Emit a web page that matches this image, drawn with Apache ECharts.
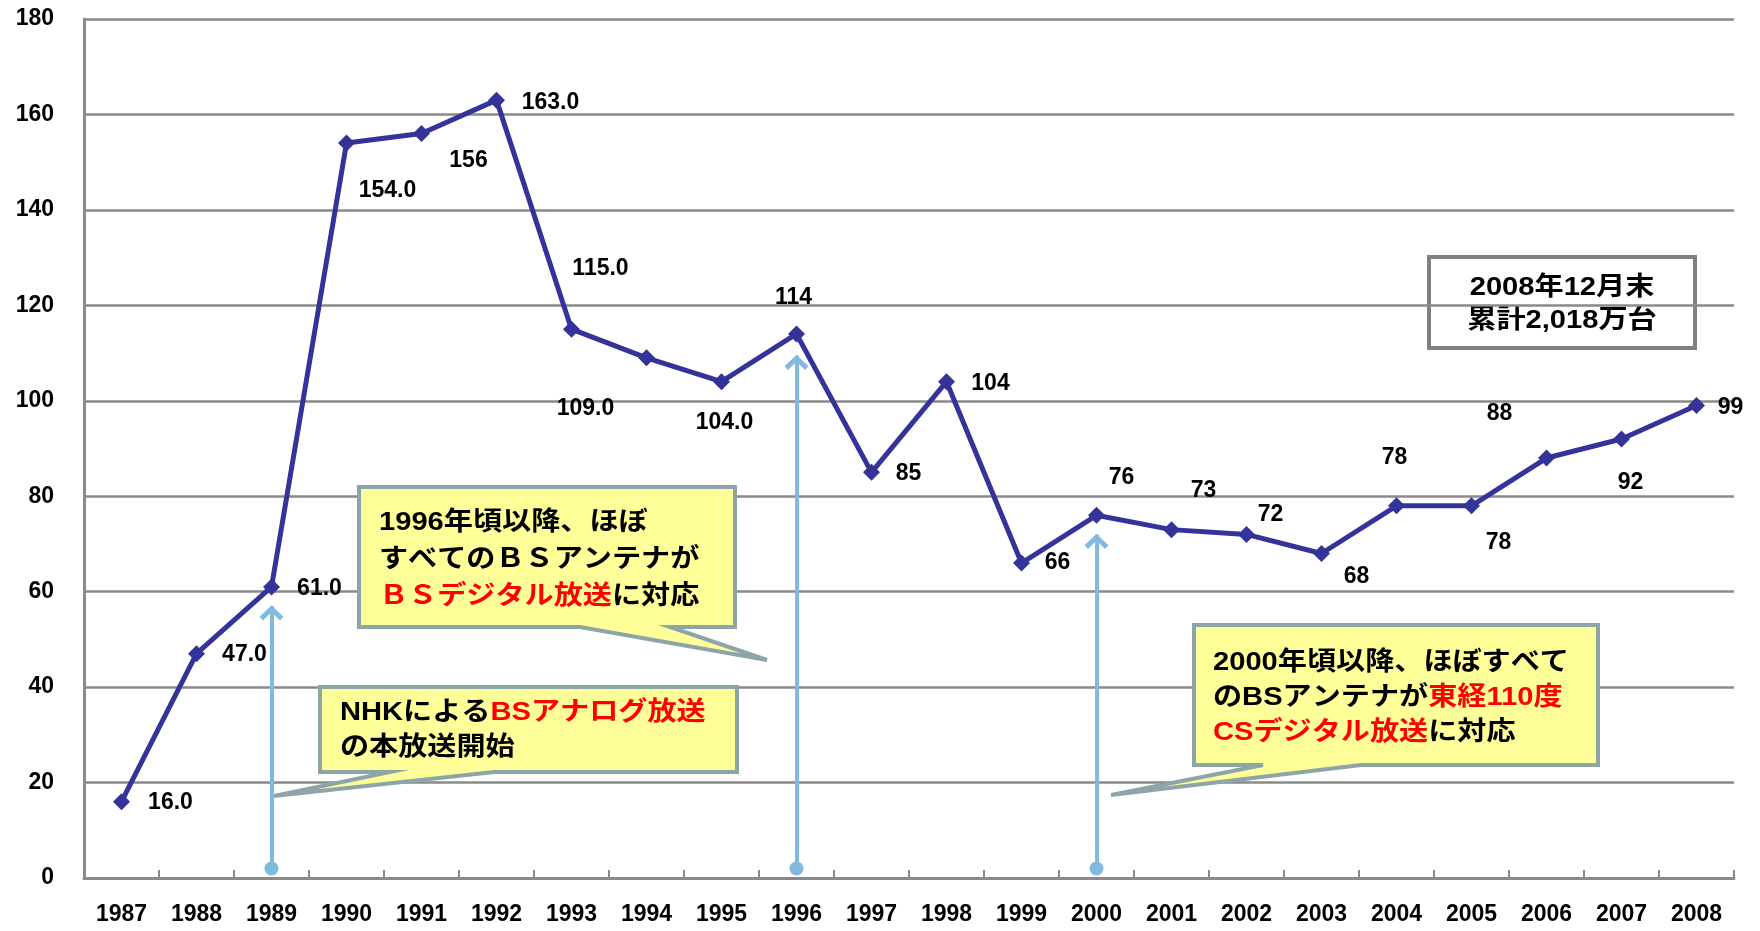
<!DOCTYPE html>
<html>
<head>
<meta charset="utf-8">
<script src="https://cdn.jsdelivr.net/npm/echarts@6/dist/echarts.min.js"></script>
<style>html,body{margin:0;padding:0;background:#fff}#c{width:1760px;height:931px}</style>
</head>
<body>
<div id="c"></div>
<script>
// ---- data ----
const years = ['1987','1988','1989','1990','1991','1992','1993','1994','1995','1996','1997','1998','1999','2000','2001','2002','2003','2004','2005','2006','2007','2008'];
const values = [16,47,61,154,156,163,115,109,104,114,85,104,66,76,73,72,68,78,78,88,92,99];
const valueLabels = ['16.0','47.0','61.0','154.0','156','163.0','115.0','109.0','104.0','114','85','104','66','76','73','72','68','78','78','88','92','99'];
const yMin = 0, yMax = 180, yStep = 20;
// annotation arrows: [category, bottom value, top value]
const arrowYears = ['1989','1996','2000'];
const arrowBottoms = [2,2,2];
const arrowTops = [57,109.5,72];

// ---- layout (label offsets in px, not data) ----
const labelOffsets = [[49,1],[48,1],[48,2],[41,48],[47,27],[54,3],[29,-61],[-61,51],[3,41],[-3,-36],[37,1],[44,2],[36,0],[25,-38],[32,-39],[24,-20],[35,23],[-2,-48],[27,37],[-47,-44],[9,44],[34,2]];

const FONT = '"Liberation Sans","Noto Sans CJK JP",sans-serif';
const chart = echarts.init(document.getElementById('c'), null, {renderer:'canvas'});

const seriesData = values.map((v,i)=>({
  value: v,
  label: { offset: labelOffsets[i], formatter: valueLabels[i] }
}));

const chevron = 'path://M0,11 L12,0 L24,11 L20.5,14.5 L12,6.5 L3.5,14.5 Z';

function callout(points){
  return {type:'polygon', z:10, shape:{points}, style:{fill:'#FFFF99', stroke:'#8DA5A8', lineWidth:4, lineJoin:'miter'}};
}
function txt(x,y,text,rich,align){
  return {type:'text', z:11, x, y, scaleX:1.12, style:{
    text, fill:'#000', font:'bold 26px '+FONT, align: align||'left', verticalAlign:'middle',
    rich: rich
  }};
}
const rich = {
  k:{fill:'#000', font:'bold 26px '+FONT},
  r:{fill:'#FF0000', font:'bold 26px '+FONT}
};

const option = {
  backgroundColor:'#fff',
  animation:false,
  grid:{left:84, right:26, top:19, bottom:53, outerBoundsMode:'none'},
  xAxis:{
    type:'category', data: years, boundaryGap:true,
    axisLine:{show:true, lineStyle:{color:'#8a8a8a', width:3}},
    axisTick:{show:true, inside:true, length:8, interval:0, lineStyle:{color:'#8a8a8a', width:2}},
    axisLabel:{interval:0, margin:25, color:'#000', fontWeight:'bold', fontSize:23, fontFamily:FONT},
    splitLine:{show:false}
  },
  yAxis:{
    type:'value', min:yMin, max:yMax, interval:yStep,
    axisLine:{show:true, lineStyle:{color:'#8a8a8a', width:3}},
    axisTick:{show:false},
    axisLabel:{margin:30, color:'#000', fontWeight:'bold', fontSize:23, fontFamily:FONT},
    splitLine:{show:true, lineStyle:{color:'#8a8a8a', width:2.5}}
  },
  series:[
    {
      type:'line', data: seriesData, z:5,
      symbol:'diamond', symbolSize:17,
      itemStyle:{color:'#333399'},
      lineStyle:{color:'#333399', width:5},
      label:{show:true, position:'inside', color:'#000', fontWeight:'bold', fontSize:23, fontFamily:FONT},
      markLine:{
        silent:true, symbol:['circle','none'], symbolSize:14,
        lineStyle:{color:'#82B9E1', width:4, type:'solid'},
        itemStyle:{color:'#82B9E1'},
        label:{show:false},
        data: arrowYears.map((y,i)=>[{coord:[y, arrowBottoms[i]]},{coord:[y, arrowTops[i]]}])
      },
      markPoint:{
        silent:true, symbol:chevron, symbolSize:[24,15], symbolOffset:[0,7], symbolKeepAspect:false,
        itemStyle:{color:'#82B9E1'}, label:{show:false},
        data: arrowYears.map((y,i)=>({coord:[y, arrowTops[i]]}))
      }
    }
  ],
  graphic:[
    // summary box (behind gridlines)
    {type:'rect', z:-10, shape:{x:1429, y:257, width:266, height:91}, style:{fill:'#fff', stroke:'#808080', lineWidth:4}},
    Object.assign(txt(1562,288,'2008年12月末',null,'center'), {z:-9}),
    Object.assign(txt(1562,321,'累計2,018万台',null,'center'), {z:-9}),
    // callout 1
    callout([[359,487],[735,487],[735,627],[670,627],[767,660],[580,627],[359,627]]),
    txt(379,523,'1996年頃以降、ほぼ'),
    txt(379,560,'すべてのＢＳアンテナが'),
    txt(379,597,'{r|ＢＳデジタル放送}{k|に対応}', rich),
    // callout 2
    callout([[320,687],[737,687],[737,772],[494,772],[274,796],[390,772],[320,772]]),
    txt(340,713,'{k|NHKによる}{r|BSアナログ放送}', rich),
    txt(340,748,'の本放送開始'),
    // callout 3
    callout([[1194,625],[1598,625],[1598,765],[1361,765],[1111,795],[1263,765],[1194,765]]),
    txt(1213,663,'2000年頃以降、ほぼすべて'),
    txt(1213,698,'{k|のBSアンテナが}{r|東経110度}', rich),
    txt(1213,733,'{r|CSデジタル放送}{k|に対応}', rich)
  ]
};
chart.setOption(option);
</script>
</body>
</html>
